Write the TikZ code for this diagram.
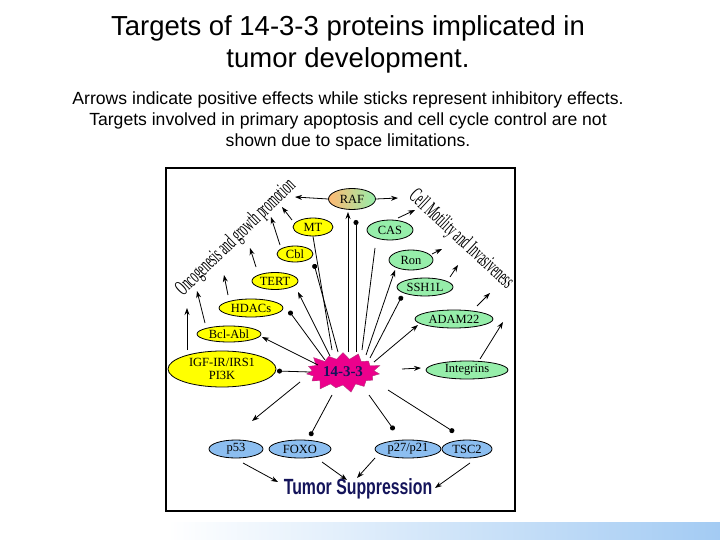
\documentclass[tikz,border=0pt]{standalone}
\usepackage{fontspec}
\setmainfont{Liberation Serif}
\newfontfamily\arialf{Liberation Sans}
\usetikzlibrary{shapes.symbols,shapes.geometric,arrows.meta}
\definecolor{yel}{RGB}{255,255,0}
\definecolor{grn}{RGB}{150,238,170}
\definecolor{blu}{RGB}{140,190,240}
\definecolor{navy}{RGB}{20,20,90}
\begin{document}
\begin{tikzpicture}[x=1pt,y=-1pt,
 el/.style={ellipse,draw=black,line width=0.8pt,inner sep=0pt,font=\fontsize{12.5}{13}\selectfont},
 yel/.style={el,fill=yel}, grn/.style={el,fill=grn}, blu/.style={el,fill=blu},
 arr/.style={-{Stealth[length=7pt,width=5pt]},line width=0.8pt},
 ball/.style={-{Circle[length=5pt]},line width=0.8pt},
 ln/.style={line width=0.8pt}]
\useasboundingbox (0,0) rectangle (720,540);
\shade[left color=white,right color=blu!80] (168,522) rectangle (720,540);
\node[font=\arialf\fontsize{27.5}{32}\selectfont,align=center] (title) at (348,44) {Targets of 14-3-3 proteins implicated in\\tumor development.};
\node[font=\arialf\fontsize{17.6}{21}\selectfont,align=center] (sub) at (348,121) {Arrows indicate positive effects while sticks represent inhibitory effects.\\Targets involved in primary apoptosis and cell cycle control are not\\shown due to space limitations.};
\draw[line width=1.5pt] (166,168) rectangle (515,511);
% nodes
\node[el,minimum width=47pt,minimum height=21pt,left color=orange!55,right color=grn] (raf) at (352,199) {RAF};
\node[yel,minimum width=40pt,minimum height=18pt] (mt) at (313,227) {MT};
\node[yel,minimum width=36pt,minimum height=16pt] (cbl) at (295,254) {Cbl};
\node[yel,minimum width=46pt,minimum height=17pt] (tert) at (275,281) {TERT};
\node[yel,minimum width=64pt,minimum height=18pt] (hdac) at (251,308) {HDACs};
\node[yel,minimum width=64pt,minimum height=16pt] (bcl) at (229,334) {Bcl-Abl};
\node[yel,minimum width=108pt,minimum height=36pt,align=center,font=\fontsize{12.5}{13}\selectfont] (igf) at (222,369) {IGF-IR/IRS1\\PI3K};
\node[starburst,starburst points=15,starburst point height=9pt,fill=magenta,draw=magenta!70!black,minimum width=80pt,minimum height=44pt,inner sep=0pt,font=\bfseries\fontsize{15}{16}\selectfont,text=navy] (hub) at (343,372) {14-3-3};
\node[grn,minimum width=46pt,minimum height=20pt] (cas) at (390,230) {CAS};
\node[grn,minimum width=44pt,minimum height=20pt] (ron) at (411,260) {Ron};
\node[grn,minimum width=56pt,minimum height=18pt] (ssh) at (425,287) {SSH1L};
\node[grn,minimum width=78pt,minimum height=18pt] (adam) at (454,319) {ADAM22};
\node[grn,minimum width=82pt,minimum height=18pt] (integ) at (467,370) {Integrins};
\node[blu,minimum width=54pt,minimum height=18pt] (p53) at (236,449) {p53};
\node[blu,minimum width=62pt,minimum height=18pt] (foxo) at (300,449) {FOXO};
\node[blu,minimum width=66pt,minimum height=18pt] (p27) at (408,449) {p27/p21};
\node[blu,minimum width=50pt,minimum height=18pt] (tsc) at (467,449) {TSC2};
\node[font=\arialf\bfseries\fontsize{22}{23}\selectfont,text=navy,xscale=0.72] (ts) at (358,489) {Tumor Suppression};
\node[rotate=44,xscale=0.5,font=\fontsize{22}{23}\selectfont] (onc) at (236,238) {Oncogenesis and growth promotion};
\node[rotate=-43,xscale=0.5,font=\fontsize{22}{23}\selectfont] (cell) at (461,240) {Cell Motility and Invasiveness};
% coordinates
\coordinate (r1) at (348,212); \coordinate (h1) at (348,352);
\coordinate (r2) at (356,220); \coordinate (h2) at (356,352);
\coordinate (m1) at (332,350); \coordinate (c1) at (314,264); \coordinate (hc) at (338,352);
\coordinate (t1) at (298,292); \coordinate (ht) at (330,356);
\coordinate (d1) at (289,311); \coordinate (hd) at (325,360);
\coordinate (b1) at (262,337); \coordinate (hb) at (318,365);
\coordinate (i1) at (277,371); \coordinate (hi) at (310,372);
\coordinate (ca) at (375,248); \coordinate (hca) at (362,350);
\coordinate (ro) at (395,270); \coordinate (hro) at (366,355);
\coordinate (ss) at (402,296); \coordinate (hss) at (370,358);
\coordinate (ad) at (418,325); \coordinate (had) at (374,362);
\coordinate (hin) at (402,369); \coordinate (in) at (421,368);
\coordinate (hp53) at (300,382); \coordinate (p53e) at (252,421);
\coordinate (hfx) at (332,395); \coordinate (fxe) at (310,436);
\coordinate (hp27) at (369,395); \coordinate (p27e) at (394,430);
\coordinate (htsc) at (388,390); \coordinate (tsce) at (454,432);
% hub connectors
\draw[arr] (h1) -- (r1);
\draw[ball] (h2) -- (r2);
\draw[ln] (m1) -- (mt.south);
\draw[ball] (hc) -- (c1);
\draw[arr] (ht) -- (t1);
\draw[ball] (hd) -- (d1);
\draw[arr] (hb) -- (b1);
\draw[ball] (hi) -- (i1);
\draw[ln] (hca) -- (ca);
\draw[arr] (hro) -- (ro);
\draw[ball] (hss) -- (ss);
\draw[arr] (had) -- (ad);
\draw[arr] (hin) -- (in);
\draw[arr] (hp53) -- (p53e);
\draw[ball] (hfx) -- (fxe);
\draw[ball] (hp27) -- (p27e);
\draw[ball] (htsc) -- (tsce);
% outer arrows
\coordinate (a1) at (295,197); \coordinate (a2) at (398,198);
\draw[arr] (raf.west) -- (a1); \draw[arr] (raf.east) -- (a2);
\coordinate (o1s) at (292,220); \coordinate (o1e) at (282,207); \draw[arr] (o1s) -- (o1e);
\coordinate (o2s) at (280,245); \coordinate (o2e) at (271,217); \draw[arr] (o2s) -- (o2e);
\coordinate (o3s) at (256,267); \coordinate (o3e) at (250,248); \draw[arr] (o3s) -- (o3e);
\coordinate (o4s) at (228,295); \coordinate (o4e) at (224,275); \draw[arr] (o4s) -- (o4e);
\coordinate (o5s) at (205,323); \coordinate (o5e) at (197,291); \draw[arr] (o5s) -- (o5e);
\coordinate (o6s) at (187,350); \coordinate (o6e) at (187,308); \draw[arr] (o6s) -- (o6e);
\coordinate (g1s) at (398,218); \coordinate (g1e) at (415,210); \draw[arr] (g1s) -- (g1e);
\coordinate (g2s) at (432,254); \coordinate (g2e) at (442,249); \draw[arr] (g2s) -- (g2e);
\coordinate (g3s) at (450,277); \coordinate (g3e) at (458,265); \draw[arr] (g3s) -- (g3e);
\coordinate (g4s) at (477,306); \coordinate (g4e) at (490,293); \draw[arr] (g4s) -- (g4e);
\coordinate (g5s) at (480,359); \coordinate (g5e) at (503,322); \draw[arr] (g5s) -- (g5e);
\coordinate (s1s) at (243,463); \coordinate (s1e) at (278,482); \draw[arr] (s1s) -- (s1e);
\coordinate (s2s) at (322,462); \coordinate (s2e) at (347,480); \draw[arr] (s2s) -- (s2e);
\coordinate (s3s) at (375,458); \coordinate (s3e) at (357,478); \draw[arr] (s3s) -- (s3e);
\coordinate (s4s) at (470,463); \coordinate (s4e) at (435,488); \draw[arr] (s4s) -- (s4e);
\end{tikzpicture}
\end{document}
